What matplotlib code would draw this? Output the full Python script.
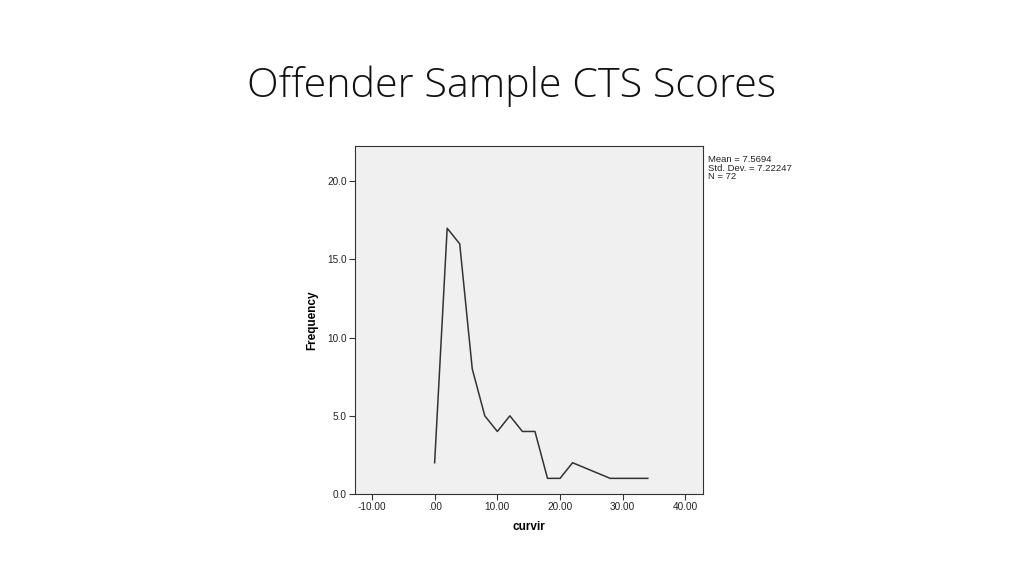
import numpy as np
import matplotlib
matplotlib.use("Agg")
import matplotlib.pyplot as plt

# Frequency polygon of curvir scores
scores = [0, 2, 4, 6, 8, 10, 12, 14, 16, 18, 20, 22, 28, 34]
freqs = [2, 17, 16, 8, 5, 4, 5, 4, 4, 1, 1, 2, 1, 1]

x_ticks = [-10, 0, 10, 20, 30, 40]
x_tick_labels = ["-10.00", ".00", "10.00", "20.00", "30.00", "40.00"]
y_ticks = [0, 5, 10, 15, 20]
y_tick_labels = ["0.0", "5.0", "10.0", "15.0", "20.0"]

stats_text = "Mean = 7.5694\nStd. Dev. = 7.22247\nN = 72"

fig = plt.figure(figsize=(10.24, 5.76), dpi=100)
fig.patch.set_facecolor("white")

fig.text(0.5, 1 - 86 / 576, "Offender Sample CTS Scores", ha="center", va="center",
         fontsize=29.7, family="Open Sans", fontweight="light", color="#111111")

ax = fig.add_axes([355 / 1024, 1 - 494 / 576, 348 / 1024, 348 / 576])
ax.set_facecolor("#f0f0f0")
ax.plot(scores, freqs, color="#333333", lw=1.1)

ax.set_xlim(-12.7, 42.8)
ax.set_ylim(0, 22.26)
ax.set_xticks(x_ticks)
ax.set_xticklabels(x_tick_labels)
ax.set_yticks(y_ticks)
ax.set_yticklabels(y_tick_labels)
ax.tick_params(labelsize=7.2, length=4, width=0.8, color="#333333",
               labelcolor="#222222", pad=2)
for lab in ax.get_xticklabels() + ax.get_yticklabels():
    lab.set_family("Liberation Sans")
for s in ax.spines.values():
    s.set_color("#333333")
    s.set_linewidth(0.8)

ax.set_xlabel("curvir", fontsize=8.5, fontweight="bold", family="Liberation Sans",
              labelpad=6)
ax.set_ylabel("Frequency", fontsize=8.5, fontweight="bold", family="Liberation Sans",
              labelpad=6)

fig.text(708 / 1024, 1 - 168 / 576, stats_text, ha="left", va="center",
         fontsize=6.8, family="Liberation Sans", linespacing=0.95, color="#222222")

fig.savefig("out.png", dpi=100)
